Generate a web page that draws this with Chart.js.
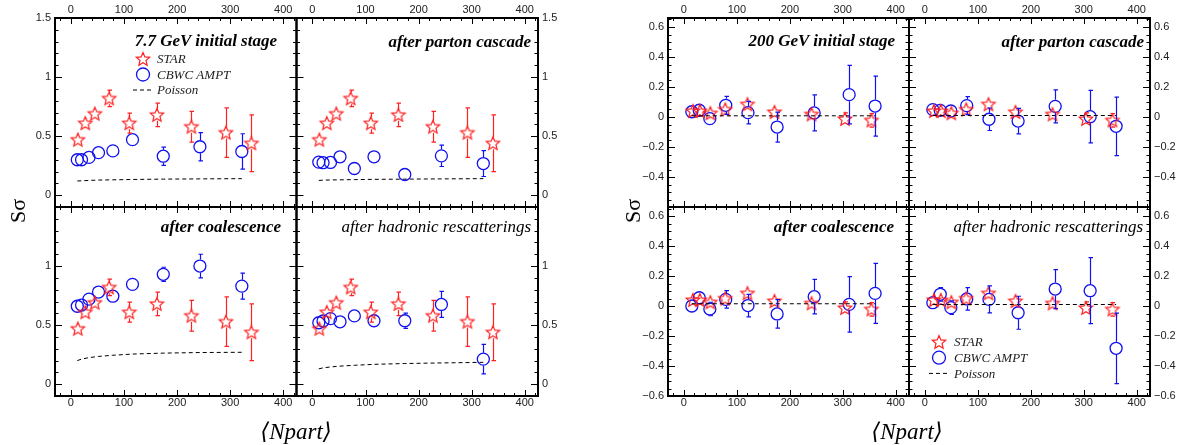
<!DOCTYPE html>
<html>
<head>
<meta charset="utf-8">
<script src="https://cdn.jsdelivr.net/npm/chart.js@4.4.1/dist/chart.umd.min.js"></script>
<style>
  body { margin: 0; background: #fff; width: 1179px; height: 445px; overflow: hidden; position: relative; }
  canvas { position: absolute; top: 0; }
  .ttl { position: absolute; font-family: "Liberation Serif", serif; font-size: 17px; line-height: 18px; white-space: nowrap; color: #000; font-style: italic; }
  .bold { font-weight: bold; }
  .ytitle { position: absolute; font-family: "Liberation Serif", serif; font-size: 22px; transform: translate(-50%, -50%) rotate(-90deg); white-space: nowrap; }
  .xtitle { position: absolute; font-family: "Liberation Serif", "DejaVu Serif", serif; font-style: italic; font-size: 23px; transform: translate(-50%, -50%); white-space: nowrap; }
</style>
</head>
<body>
<canvas id="c77" width="590" height="445" style="left:0"></canvas>
<canvas id="c200" width="589" height="445" style="left:590px"></canvas>

<div class="ttl bold" style="right:902px;top:32px">7.7 GeV initial stage</div>
<div class="ttl bold" style="right:648px;top:33px">after parton cascade</div>
<div class="ttl bold" style="right:898px;top:218px">after coalescence</div>
<div class="ttl" style="right:648px;top:218px">after hadronic rescatterings</div>
<div class="ttl bold" style="right:284px;top:32px">200 GeV initial stage</div>
<div class="ttl bold" style="right:35px;top:33px">after parton cascade</div>
<div class="ttl bold" style="right:285px;top:218px">after coalescence</div>
<div class="ttl" style="right:36px;top:218px">after hadronic rescatterings</div>

<div class="ytitle" style="left:18px;top:211px">Sσ</div>
<div class="ytitle" style="left:633px;top:211px">Sσ</div>
<div class="xtitle" style="left:296px;top:431px">⟨Npart⟩</div>
<div class="xtitle" style="left:907px;top:431px">⟨Npart⟩</div>

<script>
// <Npart> of each centrality bin
const NPART_STAR_77 = [13, 27, 45, 72, 110, 162, 227, 292, 340];
const NPART_AMPT_77 = [12, 20, 34, 52, 79, 116, 174, 243, 322];
const NPART_STAR_200 = [17, 30, 50, 78, 120, 171, 241, 304, 354];
const NPART_AMPT_200 = [15, 29, 49, 79, 121, 176, 246, 312, 361];

// STAR data
const STAR_77 = [0.47, 0.61, 0.69, 0.82, 0.61, 0.68, 0.58, 0.53, 0.44];
const STAR_77_ERR = [0.03, 0.04, 0.05, 0.07, 0.085, 0.10, 0.13, 0.21, 0.24];
const STAR_200 = [0.04, 0.04, 0.025, 0.05, 0.085, 0.033, 0.018, -0.013, -0.022];
const STAR_200_ERR = [0.02, 0.02, 0.02, 0.025, 0.03, 0.03, 0.03, 0.04, 0.045];

// CBWC AMPT, 7.7 GeV
const AMPT_77_INITIAL = [0.30, 0.30, 0.32, 0.36, 0.375, 0.47, 0.33, 0.41, 0.37];
const AMPT_77_INITIAL_ERR = [0.02, 0.02, 0.02, 0.02, 0.02, 0.045, 0.077, 0.12, 0.15];
const AMPT_77_PARTON = [0.28, 0.275, 0.277, 0.325, 0.226, 0.325, 0.175, 0.333, 0.268];
const AMPT_77_PARTON_ERR = [0.02, 0.02, 0.02, 0.02, 0.02, 0.025, 0.035, 0.09, 0.11];
const AMPT_77_COAL = [0.66, 0.67, 0.72, 0.78, 0.745, 0.845, 0.93, 1.0, 0.83];
const AMPT_77_COAL_ERR = [0.02, 0.02, 0.02, 0.02, 0.02, 0.03, 0.06, 0.10, 0.11];
const AMPT_77_HADRON = [0.52, 0.535, 0.555, 0.528, 0.578, 0.537, 0.537, 0.675, 0.212];
const AMPT_77_HADRON_ERR = [0.02, 0.02, 0.02, 0.02, 0.02, 0.055, 0.065, 0.11, 0.125];

// CBWC AMPT, 200 GeV
const AMPT_200_INITIAL = [0.035, 0.045, -0.011, 0.078, 0.029, -0.067, 0.027, 0.149, 0.073];
const AMPT_200_INITIAL_ERR = [0.02, 0.02, 0.04, 0.06, 0.075, 0.10, 0.12, 0.195, 0.20];
const AMPT_200_PARTON = [0.049, 0.044, 0.04, 0.076, -0.015, -0.027, 0.071, 0.002, -0.062];
const AMPT_200_PARTON_ERR = [0.02, 0.02, 0.04, 0.06, 0.075, 0.085, 0.11, 0.175, 0.195];
const AMPT_200_COAL = [0.0, 0.055, -0.02, 0.044, 0.003, -0.053, 0.062, 0.011, 0.084];
const AMPT_200_COAL_ERR = [0.02, 0.02, 0.045, 0.058, 0.075, 0.095, 0.115, 0.185, 0.20];
const AMPT_200_HADRON = [0.022, 0.078, -0.011, 0.047, 0.044, -0.045, 0.113, 0.102, -0.282];
const AMPT_200_HADRON_ERR = [0.02, 0.045, 0.045, 0.075, 0.09, 0.11, 0.13, 0.22, 0.235];

// Poisson baselines (at the AMPT Npart values)
const POISSON_77_INITIAL = [0.12, 0.122, 0.125, 0.128, 0.13, 0.133, 0.136, 0.138, 0.14];
const POISSON_77_PARTON = [0.125, 0.127, 0.129, 0.13, 0.132, 0.134, 0.136, 0.138, 0.14];
const POISSON_77_COAL = [0.2, 0.212, 0.225, 0.235, 0.245, 0.255, 0.263, 0.268, 0.27];
const POISSON_77_HADRON = [0.13, 0.138, 0.146, 0.153, 0.16, 0.168, 0.175, 0.18, 0.185];
const POISSON_200_INITIAL = [0.008, 0.008, 0.008, 0.008, 0.008, 0.008, 0.008, 0.008, 0.008];
const POISSON_200_PARTON = [0.01, 0.01, 0.01, 0.01, 0.01, 0.01, 0.01, 0.01, 0.01];
const POISSON_200_COAL = [0.015, 0.015, 0.015, 0.015, 0.015, 0.015, 0.015, 0.015, 0.015];
const POISSON_200_HADRON = [0.01, 0.01, 0.01, 0.01, 0.01, 0.01, 0.01, 0.01, 0.01];

// axis ticks
const X_TICKS = [0, 100, 200, 300, 400];
const Y_TICKS_77 = [0, 0.5, 1, 1.5];
const Y_TICKS_200 = [-0.6, -0.4, -0.2, 0, 0.2, 0.4, 0.6];

const STAR_RED = "#ff2020";
const AMPT_BLUE = "#1010f0";
const TICK_FONT = { family: "'Liberation Sans', Arial, sans-serif", size: 11 };
const TICK_COLOR = "#222";

function makeStar(color, r) {
    const c = document.createElement("canvas");
    const s = Math.ceil(r * 2 + 4);
    c.width = s;
    c.height = s;
    const g = c.getContext("2d");
    g.beginPath();
    for (let i = 0; i < 10; i++) {
        const rad = i % 2 ? r * 0.45 : r;
        const a = -Math.PI / 2 + i * Math.PI / 5;
        g.lineTo(s / 2 + rad * Math.cos(a), s / 2 + 0.5 + rad * Math.sin(a));
    }
    g.closePath();
    g.strokeStyle = color;
    g.lineWidth = 1.2;
    g.stroke();
    return c;
}

const STAR_IMG = makeStar(STAR_RED, 7);

function points(xs, ys) {
    return xs.map((x, i) => ({ x: x, y: ys[i] }));
}

function fmt(v) {
    return v < 0 ? "\u2212" + String(-v) : String(v);
}

function eachTick(min, max, minor, major, fn) {
    for (let k = Math.ceil(min / minor - 1e-9); k * minor <= max + 1e-9; k++) {
        const v = k * minor;
        const q = v / major;
        fn(v, Math.abs(q - Math.round(q)) < 1e-6);
    }
}

// ROOT style frames with inward ticks on every side of each pad
const rootFrame = {
    id: "rootFrame",
    afterDraw(chart, args, opts) {
        const ctx = chart.ctx;
        ctx.save();
        ctx.strokeStyle = "#000";
        for (const pos of ["TL", "TR", "BL", "BR"]) {
            const xs = chart.scales["x" + pos];
            const ys = chart.scales["y" + pos];
            const l = xs.left, r = xs.right, t = ys.top, b = ys.bottom;
            ctx.lineWidth = 1;
            ctx.beginPath();
            eachTick(xs.min, xs.max, opts.xMinor, opts.xMajor, (v, major) => {
                const px = Math.round(xs.getPixelForValue(v)) + 0.5;
                const len = major ? 6 : 3;
                ctx.moveTo(px, b); ctx.lineTo(px, b - len);
                ctx.moveTo(px, t); ctx.lineTo(px, t + len);
            });
            eachTick(ys.min, ys.max, opts.yMinor, opts.yMajor, (v, major) => {
                const py = Math.round(ys.getPixelForValue(v)) + 0.5;
                const len = major ? 7 : 3.5;
                ctx.moveTo(l, py); ctx.lineTo(l + len, py);
                ctx.moveTo(r, py); ctx.lineTo(r - len, py);
            });
            ctx.stroke();
            ctx.lineWidth = 2;
            ctx.strokeRect(l, t, r - l, b - t);
        }
        ctx.restore();
    }
};

// vertical error bars with small caps, kept outside the hollow marker
const errorBars = {
    id: "errorBars",
    afterDatasetsDraw(chart) {
        const ctx = chart.ctx;
        ctx.save();
        chart.data.datasets.forEach((ds, i) => {
            if (!ds.errors) return;
            const meta = chart.getDatasetMeta(i);
            const ys = chart.scales[meta.yAxisID];
            ctx.strokeStyle = ds.errColor;
            ctx.lineWidth = 1.2;
            ctx.beginPath();
            meta.data.forEach((el, j) => {
                const y = ds.data[j].y;
                const top = ys.getPixelForValue(y + ds.errors[j]);
                const bot = ys.getPixelForValue(y - ds.errors[j]);
                const x = Math.round(el.x) + 0.5;
                if (top < el.y - ds.errGap) {
                    ctx.moveTo(x, el.y - ds.errGap); ctx.lineTo(x, top);
                    ctx.moveTo(x - 2, top); ctx.lineTo(x + 2.5, top);
                }
                if (bot > el.y + ds.errGap) {
                    ctx.moveTo(x, el.y + ds.errGap); ctx.lineTo(x, bot);
                    ctx.moveTo(x - 2, bot); ctx.lineTo(x + 2.5, bot);
                }
            });
            ctx.stroke();
        });
        ctx.restore();
    }
};

// in-pad legend
const rootLegend = {
    id: "rootLegend",
    afterDraw(chart, args, opts) {
        const ctx = chart.ctx;
        const xs = chart.scales["x" + opts.pad];
        const ys = chart.scales["y" + opts.pad];
        const x0 = xs.left + opts.dx;
        const y0 = ys.top + opts.dy;
        ctx.save();
        ctx.font = "italic 13px 'Liberation Serif', serif";
        ctx.textBaseline = "middle";
        ctx.fillStyle = "#222";
        const names = ["STAR", "CBWC AMPT", "Poisson"];
        names.forEach((name, k) => {
            const y = y0 + k * opts.rowH;
            if (k === 0) {
                ctx.drawImage(STAR_IMG, x0 - STAR_IMG.width / 2, y - STAR_IMG.height / 2);
            } else if (k === 1) {
                ctx.beginPath();
                ctx.arc(x0, y, 6.5, 0, Math.PI * 2);
                ctx.strokeStyle = AMPT_BLUE;
                ctx.lineWidth = 1.3;
                ctx.stroke();
            } else {
                ctx.beginPath();
                ctx.setLineDash([4, 3]);
                ctx.moveTo(x0 - 10, y); ctx.lineTo(x0 + 10, y);
                ctx.strokeStyle = "#000";
                ctx.lineWidth = 1;
                ctx.stroke();
                ctx.setLineDash([]);
            }
            ctx.fillText(name, x0 + opts.textDx, y + 1);
        });
        ctx.restore();
    }
};

function buildChart(canvasId, g) {
    const datasets = [];
    g.pads.forEach(p => {
        const ids = { xAxisID: "x" + p.pos, yAxisID: "y" + p.pos };
        datasets.push(Object.assign({
            label: "Poisson",
            data: points(g.amptX, p.poisson),
            showLine: true,
            borderColor: "#000",
            borderWidth: 1,
            borderDash: [4, 3],
            pointRadius: 0
        }, ids));
        datasets.push(Object.assign({
            label: "STAR",
            data: points(g.starX, g.star),
            errors: g.starErr,
            errColor: STAR_RED,
            errGap: 6,
            pointStyle: STAR_IMG,
            pointRadius: 7
        }, ids));
        datasets.push(Object.assign({
            label: "CBWC AMPT",
            data: points(g.amptX, p.ampt),
            errors: p.err,
            errColor: AMPT_BLUE,
            errGap: 6.5,
            pointStyle: "circle",
            pointRadius: 6,
            borderWidth: 1.3,
            borderColor: AMPT_BLUE,
            backgroundColor: "rgba(0,0,0,0)"
        }, ids));
    });

    const xAxis = (position, weight) => ({
        type: "linear",
        position: position,
        stack: position,
        stackWeight: 1,
        weight: weight,
        min: -30,
        max: 425,
        grid: { display: false, drawTicks: false },
        border: { display: false },
        ticks: {
            font: TICK_FONT, color: TICK_COLOR, autoSkip: false, maxRotation: 0,
            padding: position === "top" ? 1 : 0,
            callback: v => String(v)
        },
        afterBuildTicks: s => { s.ticks = X_TICKS.map(v => ({ value: v })); },
        afterFit: s => { s.height = position === "top" ? 18 : 49; }
    });

    const yAxis = (position, weight, hide) => ({
        type: "linear",
        position: position,
        stack: position,
        stackWeight: 1,
        weight: weight,
        min: g.yMin,
        max: g.yMax,
        grid: { display: false, drawTicks: false },
        border: { display: false },
        ticks: {
            font: TICK_FONT, color: TICK_COLOR, autoSkip: false, padding: 4,
            callback: v => (hide && v === g.hideValue) ? "" : fmt(v)
        },
        afterBuildTicks: s => { s.ticks = g.yTicks.map(v => ({ value: v })); },
        afterFit: s => { s.width = position === "left" ? g.leftW : g.rightW; }
    });

    return new Chart(document.getElementById(canvasId), {
        type: "scatter",
        data: { datasets: datasets },
        options: {
            responsive: false,
            animation: false,
            events: [],
            layout: { padding: 0 },
            scales: {
                xTL: xAxis("top", 2),
                xTR: xAxis("top", 1),
                xBL: xAxis("bottom", 1),
                xBR: xAxis("bottom", 2),
                yTL: yAxis("left", 2, g.hideTop),
                yBL: yAxis("left", 1, !g.hideTop),
                yTR: yAxis("right", 1, g.hideTop),
                yBR: yAxis("right", 2, !g.hideTop)
            },
            plugins: {
                legend: { display: false },
                tooltip: { enabled: false },
                rootFrame: { xMajor: 100, xMinor: 20, yMajor: g.yMajor, yMinor: g.yMinor },
                rootLegend: g.legend
            }
        },
        plugins: [errorBars, rootFrame, rootLegend]
    });
}

buildChart("c77", {
    starX: NPART_STAR_77, star: STAR_77, starErr: STAR_77_ERR,
    amptX: NPART_AMPT_77,
    pads: [
        { pos: "TL", ampt: AMPT_77_INITIAL, err: AMPT_77_INITIAL_ERR, poisson: POISSON_77_INITIAL },
        { pos: "TR", ampt: AMPT_77_PARTON, err: AMPT_77_PARTON_ERR, poisson: POISSON_77_PARTON },
        { pos: "BL", ampt: AMPT_77_COAL, err: AMPT_77_COAL_ERR, poisson: POISSON_77_COAL },
        { pos: "BR", ampt: AMPT_77_HADRON, err: AMPT_77_HADRON_ERR, poisson: POISSON_77_HADRON }
    ],
    yMin: -0.1, yMax: 1.5, yTicks: Y_TICKS_77, yMajor: 0.5, yMinor: 0.1,
    hideTop: false, hideValue: 1.5,
    leftW: 55, rightW: 52,
    legend: { pad: "TL", dx: 88, dy: 41, rowH: 15.5, textDx: 14 }
});

buildChart("c200", {
    starX: NPART_STAR_200, star: STAR_200, starErr: STAR_200_ERR,
    amptX: NPART_AMPT_200,
    pads: [
        { pos: "TL", ampt: AMPT_200_INITIAL, err: AMPT_200_INITIAL_ERR, poisson: POISSON_200_INITIAL },
        { pos: "TR", ampt: AMPT_200_PARTON, err: AMPT_200_PARTON_ERR, poisson: POISSON_200_PARTON },
        { pos: "BL", ampt: AMPT_200_COAL, err: AMPT_200_COAL_ERR, poisson: POISSON_200_COAL },
        { pos: "BR", ampt: AMPT_200_HADRON, err: AMPT_200_HADRON_ERR, poisson: POISSON_200_HADRON }
    ],
    yMin: -0.6, yMax: 0.66, yTicks: Y_TICKS_200, yMajor: 0.2, yMinor: 0.05,
    hideTop: true, hideValue: -0.6,
    leftW: 78, rightW: 29,
    legend: { pad: "BR", dx: 30, dy: 135, rowH: 15.7, textDx: 15 }
});
</script>
</body>
</html>
